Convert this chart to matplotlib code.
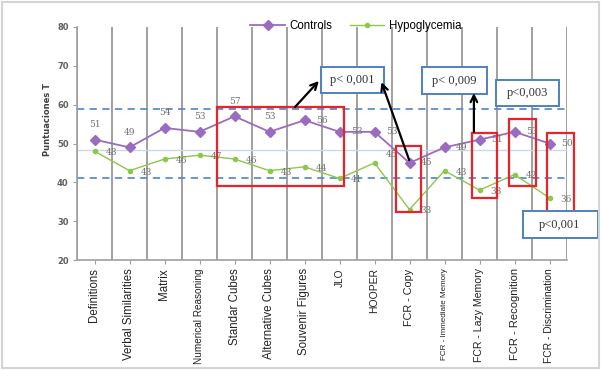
import numpy as np
import matplotlib.pyplot as plt
from matplotlib.patches import Rectangle

tests = ['Definitions', 'Verbal Similarities', 'Matrix', 'Numerical Reasoning',
         'Standar Cubes', 'Alternative Cubes', 'Souvenir Figures', 'JLO', 'HOOPER',
         'FCR - Copy', 'FCR - Immediate Memory', 'FCR - Lazy Memory',
         'FCR - Recognition', 'FCR - Discrimination']
controls = [51, 49, 54, 53, 57, 53, 56, 53, 53, 45, 49, 51, 53, 50]
hypo = [48, 43, 46, 47, 46, 43, 44, 41, 45, 33, 43, 38, 42, 36]
p_texts = ['p< 0,001', 'p< 0,009', 'p<0,003', 'p<0,001']

purple = '#9a6cc0'
green = '#8cc84b'
blue = '#4f81bd'
red = '#e8232a'

# tick label sizes tuned so the rotated labels keep the reference lengths
label_size = {'Numerical Reasoning': 7.2, 'FCR - Immediate Memory': 5.8,
              'FCR - Lazy Memory': 7.6, 'FCR - Discrimination': 7.4,
              'FCR - Recognition': 8.0,
              'JLO': 7.2, 'HOOPER': 7.5, 'FCR - Copy': 7.8}

fig = plt.figure(figsize=(6.01, 3.70), dpi=100)
fig.patches.append(Rectangle((0.004, 0.006), 0.992, 0.988, transform=fig.transFigure,
                             fill=False, edgecolor='#d4d4d4', lw=1.5))
ax = fig.add_axes([77/601, 1-260/370, 490/601, 233/370])

x = np.arange(len(tests))
ax.set_xlim(-0.5, len(tests)-0.5)
ax.set_ylim(20, 80)

# vertical separators
for b in np.arange(-0.5, len(tests), 1.0):
    ax.axvline(b, color='#a0a0a0', lw=1.4, zorder=1)

# reference lines
ax.axhline(59, color='#5a8fcc', lw=1.3, ls=(0, (4, 3)), zorder=2)
ax.axhline(41, color='#5a8fcc', lw=1.3, ls=(0, (4, 3)), zorder=2)
ax.axhline(48.3, color='#c8d8ee', lw=1.0, zorder=2)

l1, = ax.plot(x, controls, color=purple, lw=1.3, marker='D', ms=5, zorder=4, label='Controls')
l2, = ax.plot(x, hypo, color=green, lw=1.0, marker='o', ms=3, zorder=4, label='Hypoglycemia')

lab_kw = dict(textcoords='offset points', fontsize=6.5, color='#707070',
              family='DejaVu Serif', ha='center', va='center', zorder=5)
for i, v in enumerate(controls):
    off = (0, 11) if i < 6 else (12.5, 0)
    ax.annotate(str(v), (i, v), xytext=off, **lab_kw)
for i, v in enumerate(hypo):
    off = (12, 6) if tests[i] == 'HOOPER' else (12, -1)
    ax.annotate(str(v), (i, v), xytext=off, **lab_kw)

# highlight boxes (data coords)
red_boxes = [(3.5, 39.0, 7.13, 59.4), (8.6, 32.3, 9.32, 49.4), (10.78, 35.9, 11.49, 52.8),
             (11.85, 39.1, 12.6, 56.3), (12.94, 32.4, 13.7, 52.8)]
for x0, y0, x1, y1 in red_boxes:
    ax.add_patch(Rectangle((x0, y0), x1-x0, y1-y0, fill=False, edgecolor=red,
                           lw=1.6, zorder=6, clip_on=False))

# p-value boxes (pixel sizes converted to data)
dx = 1/35
dy = 60/233
p_pos = [(7.37, 66.4), (10.29, 66.2), (12.38, 63.0), (13.3, 29.1)]
p_size = [(63.6, 26), (64.4, 27.5), (63.3, 26), (75, 27.3)]
for t, (cx, cy), (w, h) in zip(p_texts, p_pos, p_size):
    ax.add_patch(Rectangle((cx - w*dx/2, cy - h*dy/2), w*dx, h*dy, facecolor='white',
                           edgecolor=blue, lw=1.4, zorder=7, clip_on=False))
    ax.text(cx, cy, t, ha='center', va='center', fontsize=9, family='Liberation Serif',
            color='#333333', zorder=8, clip_on=False)

arrows = [((5.73, 59.4), (6.41, 66.1)), ((8.99, 45.75), (8.2, 65.8)),
          ((10.84, 53.0), (10.84, 63.0))]
for start, end in arrows:
    ax.annotate('', xy=end, xytext=start,
                arrowprops=dict(arrowstyle='->', color='black', lw=1.6,
                                mutation_scale=12, shrinkA=0, shrinkB=0), zorder=9)

ax.set_xticks(x)
ax.set_xticklabels(tests, rotation=90, fontsize=8.3, family='Liberation Sans', color='#222222')
for lbl in ax.get_xticklabels():
    lbl.set_fontsize(label_size.get(lbl.get_text(), 8.3))
ax.tick_params(axis='x', length=3, color='#a0a0a0', pad=3)
ax.set_yticks(range(20, 81, 10))
ax.tick_params(axis='y', length=3, color='#a0a0a0', labelsize=6, labelcolor='#606060', pad=3)
for lbl in ax.get_yticklabels():
    lbl.set_fontweight('bold')

for s in ['top', 'right']:
    ax.spines[s].set_visible(False)
ax.spines['left'].set_color('#a0a0a0')
ax.spines['bottom'].set_color('#a0a0a0')
ax.spines['left'].set_linewidth(1.2)
ax.spines['bottom'].set_linewidth(1.2)

fig.text(48/601, 1-120/370, 'Puntuaciones T', rotation=90, ha='center', va='center',
         fontsize=6, fontweight='bold', color='#404040')

fig.legend(handles=[l1, l2], loc='center', bbox_to_anchor=(356/601, 1-26/370), ncol=2,
           frameon=False, handlelength=3, columnspacing=1.5, handletextpad=0.4,
           prop={'family': 'Liberation Sans', 'size': 8.3})

fig.savefig('out.png', dpi=100)
